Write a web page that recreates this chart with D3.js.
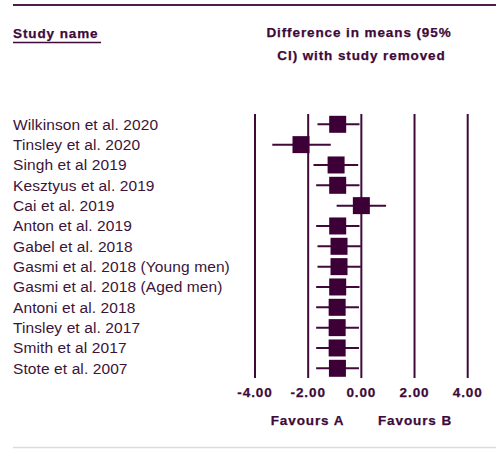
<!DOCTYPE html>
<html>
<head>
<meta charset="utf-8">
<script src="https://cdn.jsdelivr.net/npm/d3@7"></script>
<style>
  body { margin: 0; background: #fff; }
  svg { display: block; }
  .bold { font-family: "Liberation Sans", Arial, sans-serif; font-weight: bold; font-size: 13.5px; letter-spacing: 0.9px; fill: #3d0a3a; stroke: #3d0a3a; stroke-width: 0.25px; }
  .study { font-family: "Liberation Sans", Arial, sans-serif; font-size: 15.5px; letter-spacing: 0.1px; fill: #3b1438; }
</style>
</head>
<body>
<div id="container"></div>
<script>
// data
const studies = [
    "Wilkinson et al. 2020",
    "Tinsley et al. 2020",
    "Singh et al 2019",
    "Kesztyus et al. 2019",
    "Cai et al. 2019",
    "Anton et al. 2019",
    "Gabel et al. 2018",
    "Gasmi et al. 2018 (Young men)",
    "Gasmi et al. 2018 (Aged men)",
    "Antoni et al. 2018",
    "Tinsley et al. 2017",
    "Smith et al 2017",
    "Stote et al. 2007"
];
const means = [-0.89, -2.27, -0.95, -0.89, 0.00, -0.89, -0.84, -0.84, -0.89, -0.91, -0.91, -0.91, -0.90];
const lower = [-1.65, -3.35, -1.80, -1.70, -0.93, -1.70, -1.65, -1.65, -1.70, -1.70, -1.70, -1.70, -1.70];
const upper = [-0.07, -1.15, -0.12, -0.07, 0.93, -0.07, -0.02, -0.02, -0.07, -0.09, -0.09, -0.09, -0.09];
const ticks = [-4, -2, 0, 2, 4];

const width = 496, height = 449;
const dark = "#3f0a3a";

const svg = d3.select("div#container").append("svg")
    .attr("width", width).attr("height", height);

const x = d3.scaleLinear().domain([-4, 4]).range([255, 467.7]);
const y = d3.scalePoint().domain(studies).range([124.3, 368.3]);

// frame lines
svg.append("line")
    .attr("x1", 13).attr("x2", width).attr("y1", 5).attr("y2", 5)
    .attr("stroke", "#4b1e4b").attr("stroke-width", 2);
svg.append("line")
    .attr("x1", 13).attr("x2", width).attr("y1", 447.5).attr("y2", 447.5)
    .attr("stroke", "#e2d6e2").attr("stroke-width", 1.5);

// headers
svg.append("text").attr("class", "bold")
    .attr("x", 13).attr("y", 38).text("Study name");
svg.append("line")
    .attr("x1", 13).attr("x2", 101).attr("y1", 42.5).attr("y2", 42.5)
    .attr("stroke", dark).attr("stroke-width", 1.5);
svg.append("text").attr("class", "bold").attr("text-anchor", "middle")
    .attr("x", 359).attr("y", 37).text("Difference in means (95%");
svg.append("text").attr("class", "bold").attr("text-anchor", "middle")
    .attr("x", 361.5).attr("y", 60).text("CI) with study removed");

// vertical grid lines
svg.selectAll("line.grid")
    .data(ticks)
    .enter()
    .append("line")
    .classed("grid", true)
    .attr("x1", d => x(d)).attr("x2", d => x(d))
    .attr("y1", 114).attr("y2", 378)
    .attr("stroke", dark).attr("stroke-width", 2);

// tick labels (plain hyphen, like the original)
svg.selectAll("text.tick")
    .data(ticks)
    .enter()
    .append("text")
    .attr("class", "bold tick")
    .attr("text-anchor", "middle")
    .attr("x", d => x(d))
    .attr("y", 397)
    .text(d => d.toFixed(2));

svg.append("text").attr("class", "bold").attr("text-anchor", "middle")
    .attr("x", 307.5).attr("y", 425).text("Favours A");
svg.append("text").attr("class", "bold").attr("text-anchor", "middle")
    .attr("x", 415).attr("y", 425).text("Favours B");

// study names
svg.selectAll("text.study")
    .data(studies)
    .enter()
    .append("text")
    .attr("class", "study")
    .attr("x", 13)
    .attr("y", d => y(d) + 5.5)
    .text(d => d);

// confidence intervals
svg.selectAll("line.ci")
    .data(studies)
    .enter()
    .append("line")
    .classed("ci", true)
    .attr("x1", (d, i) => x(lower[i]))
    .attr("x2", (d, i) => x(upper[i]))
    .attr("y1", d => y(d)).attr("y2", d => y(d))
    .attr("stroke", dark).attr("stroke-width", 2);

// point estimates
const box = 17;
svg.selectAll("rect.est")
    .data(studies)
    .enter()
    .append("rect")
    .classed("est", true)
    .attr("x", (d, i) => x(means[i]) - box / 2)
    .attr("y", d => y(d) - box / 2)
    .attr("width", box).attr("height", box)
    .attr("fill", "#3c0036");
</script>
</body>
</html>
